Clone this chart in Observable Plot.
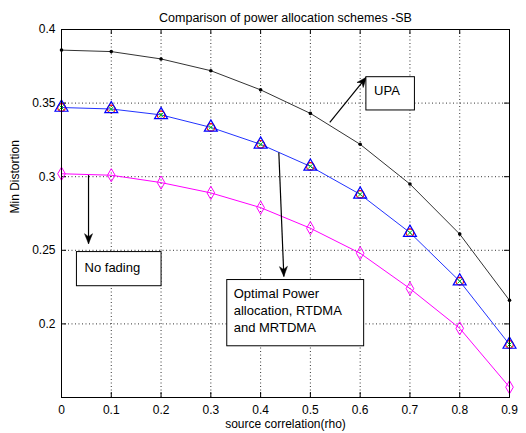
<!DOCTYPE html>
<html><head><meta charset="utf-8">
<script src="https://cdn.jsdelivr.net/npm/d3@7"></script>
<script src="https://cdn.jsdelivr.net/npm/@observablehq/plot@0.6"></script>
<style>body{margin:0;background:#fff}</style>
</head><body><div id="chart"></div>
<script>
// ---- data ----
const rho = [0, 0.1, 0.2, 0.3, 0.4, 0.5, 0.6, 0.7, 0.8, 0.9];
const upa = [0.386, 0.385, 0.380, 0.372, 0.359, 0.343, 0.322, 0.295, 0.261, 0.216];
const optimal = [0.347, 0.346, 0.342, 0.3335, 0.322, 0.307, 0.288, 0.262, 0.229, 0.186];
const noFading = [0.302, 0.301, 0.296, 0.289, 0.279, 0.265, 0.248, 0.224, 0.197, 0.157];
const xTicks = [0, 0.1, 0.2, 0.3, 0.4, 0.5, 0.6, 0.7, 0.8, 0.9];
const yTicks = [0.2, 0.25, 0.3, 0.35, 0.4];
const title = "Comparison of power allocation schemes -SB";
const xLabel = "source correlation(rho)";
const yLabel = "Min Distortion";
// annotations (data coordinates)
const arrows = [
  {x1: 0.539, y1: 0.3369, x2: 0.6125, y2: 0.3676},
  {x1: 0.0543, y1: 0.3011, x2: 0.0543, y2: 0.2545},
  {x1: 0.4366, y1: 0.3165, x2: 0.4467, y2: 0.2322}
];
const boxes = [
  {x1: 0.6125, x2: 0.71, y1: 0.3676, y2: 0.345},
  {x1: 0.031, x2: 0.201, y1: 0.2488, y2: 0.2256},
  {x1: 0.333, x2: 0.608, y1: 0.2298, y2: 0.1848}
];
const notes = [
  {x: 0.628, y: 0.359, text: "UPA"},
  {x: 0.0463, y: 0.2388, text: "No fading"},
  {x: 0.346, y: 0.2098, text: "Optimal Power\nallocation, RTDMA\nand MRTDMA"}
];

// ---- layout ----
const W = 526, H = 433, mL = 61, mR = 17, mT = 29, mB = 36;
const pw = W - mL - mR, ph = H - mT - mB;
const xDom = [0, 0.9], yDom = [0.15, 0.4];
const rows = rho.map((x, i) => ({x, upa: upa[i], opt: optimal[i], nf: noFading[i]}));

// arrowhead rotation from pixel direction
const heads = arrows.map(a => {
  const dxp = (a.x2 - a.x1) * pw / (xDom[1] - xDom[0]);
  const dyp = -(a.y2 - a.y1) * ph / (yDom[1] - yDom[0]);
  return {...a, angle: Math.atan2(dxp, -dyp) * 180 / Math.PI};
});
// MATLAB-like notched filled arrowhead, tip at origin, pointing up
const arrowHead = {
  draw(ctx, size) {
    const s = Math.sqrt(size / Math.PI) / 4;
    ctx.moveTo(0, 0);
    ctx.lineTo(-4 * s, 10 * s);
    ctx.lineTo(0, 7 * s);
    ctx.lineTo(4 * s, 10 * s);
    ctx.closePath();
  }
};

const chart = Plot.plot({
  width: W, height: H,
  marginLeft: mL, marginRight: mR, marginTop: mT, marginBottom: mB,
  style: {fontFamily: "'Liberation Sans', Arial, sans-serif", fontSize: "12px", background: "white", color: "black"},
  x: {domain: xDom},
  y: {domain: yDom},
  marks: [
    Plot.ruleX(xTicks, {x: d => d, stroke: "#000", strokeDasharray: "1,2.5", strokeOpacity: 0.8}),
    Plot.ruleY(yTicks, {y: d => d, stroke: "#000", strokeDasharray: "1,2.5", strokeOpacity: 0.8}),
    Plot.tickX(xTicks, {x: d => d, insetTop: ph - 5, stroke: "#000"}),
    Plot.tickX(xTicks, {x: d => d, insetBottom: ph - 5, stroke: "#000"}),
    Plot.tickY(yTicks, {y: d => d, insetRight: pw - 5, stroke: "#000"}),
    Plot.tickY(yTicks, {y: d => d, insetLeft: pw - 5, stroke: "#000"}),
    Plot.axisX({ticks: xTicks, tickSize: 0, tickPadding: 8, label: null, tickFormat: d => String(d), fontSize: 12}),
    Plot.axisY({ticks: yTicks, tickSize: 0, tickPadding: 6, label: null, tickFormat: d => String(d), fontSize: 12}),
    // UPA
    Plot.line(rows, {x: "x", y: "upa", stroke: "#333", strokeWidth: 1}),
    Plot.dot(rows, {x: "x", y: "upa", r: 1.8, fill: "#000"}),
    // No fading
    Plot.line(rows, {x: "x", y: "nf", stroke: "#ff00ff", strokeWidth: 1}),
    Plot.dot(rows, {x: "x", y: "nf", symbol: "diamond", r: 4, stroke: "#ff00ff", fill: "none", strokeWidth: 1}),
    // Optimal / RTDMA / MRTDMA
    Plot.line(rows, {x: "x", y: "opt", stroke: "#2233ff", strokeWidth: 1}),
    Plot.dot(rows, {x: "x", y: "opt", r: 3.8, stroke: "#ff0000", fill: "none", strokeWidth: 1.2}),
    Plot.dot(rows, {x: "x", y: "opt", symbol: "triangle", r: 4.8, stroke: "#0000ff", fill: "none", strokeWidth: 1.2}),
    Plot.dot(rows, {x: "x", y: "opt", symbol: "times", r: 2.2, stroke: "#00cc00", fill: "none", strokeWidth: 1}),
    // annotations
    Plot.link(arrows, {x1: "x1", y1: "y1", x2: "x2", y2: "y2", stroke: "#000", strokeWidth: 1.2}),
    Plot.dot(heads, {x: "x2", y: "y2", rotate: "angle", symbol: arrowHead, r: 4, fill: "#000", stroke: "#000", strokeWidth: 0.5}),
    Plot.rect(boxes, {x1: "x1", x2: "x2", y1: "y1", y2: "y2", fill: "white", stroke: "#000", strokeWidth: 1}),
    Plot.text(notes, {x: "x", y: "y", text: "text", textAnchor: "start", lineAnchor: "middle", fontSize: 13, lineHeight: 1.33, fill: "#000"}),
    Plot.frame({stroke: "#000"}),
    // titles
    Plot.text([title], {text: d => d, frameAnchor: "top", dy: -16, fontSize: 12.5, fill: "#000"}),
    Plot.text([xLabel], {text: d => d, frameAnchor: "bottom", dy: 30, fontSize: 12, fill: "#000"}),
    Plot.text([yLabel], {text: d => d, frameAnchor: "left", dx: -46, rotate: -90, fontSize: 12, fill: "#000"})
  ]
});
document.getElementById("chart").appendChild(chart);
</script>
</body></html>
